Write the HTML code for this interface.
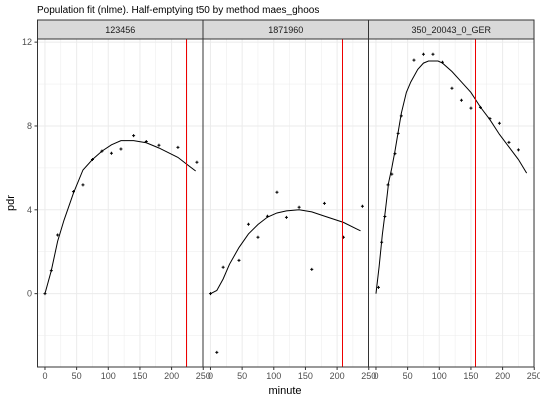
<!DOCTYPE html>
<html><head><meta charset="utf-8"><style>
body{margin:0;background:#fff}
svg{display:block;font-family:"Liberation Sans",sans-serif}
</style></head><body>
<svg id="chart" width="540" height="400">
<text x="37" y="13" font-size="10" fill="#000">Population fit (nlme). Half-emptying t50 by method maes_ghoos</text>
<text x="285" y="394" font-size="11" text-anchor="middle">minute</text>
<text x="14" y="203" font-size="11" text-anchor="middle" transform="rotate(-90 14 203)">pdr</text>
</svg>
<script>
const panelNames=["123456","1871960","350_20043_0_GER"];
const xTicks=[0,50,100,150,200,250];
const yTicks=[0,4,8,12];
const t50=[223,207,156];
const pts1x=[0,10,20,45,60,75,90,105,120,140,160,180,210,240];
const pts1y=[0,1.1,2.8,4.87,5.19,6.4,6.8,6.7,6.9,7.54,7.26,7.08,6.98,6.27];
const pts2x=[0,10,20,45,60,75,90,105,120,140,160,180,210,240];
const pts2y=[0,-2.8,1.26,1.59,3.31,2.69,3.69,4.84,3.64,4.12,1.16,4.31,2.69,4.17];
const pts3x=[4,9,14,19,25,30,35,40,60,75,90,105,120,135,150,165,180,195,210,225];
const pts3y=[0.3,2.45,3.68,5.19,5.7,6.68,7.65,8.48,11.14,11.42,11.42,11.04,9.8,9.23,8.85,8.89,8.35,8.13,7.22,6.86];
const fit1x=[0,10,20,30,45,60,75,90,105,120,140,160,180,210,225,238];
const fit1y=[0,1.1,2.5,3.5,4.8,5.9,6.4,6.8,7.1,7.3,7.3,7.2,6.95,6.5,6.15,5.85];
const fit2x=[0,10,20,30,45,60,75,90,105,120,140,160,180,210,230,237];
const fit2y=[0,0.15,0.7,1.4,2.2,2.85,3.3,3.65,3.85,3.95,4.0,3.9,3.7,3.4,3.1,3.0];
const fit3x=[0,5,10,15,20,25,30,35,40,48,55,66,75,83,98,105,120,135,150,165,180,195,210,225,238];
const fit3y=[0,1.3,2.8,4.0,5.3,6.0,6.8,7.7,8.6,9.6,10.1,10.7,11.0,11.1,11.1,11.0,10.6,10.1,9.6,8.9,8.3,7.6,7.0,6.4,5.75];
const PX=[pts1x,pts2x,pts3x],PY=[pts1y,pts2y,pts3y],FX=[fit1x,fit2x,fit3x],FY=[fit1y,fit2y,fit3y];
const NS="http://www.w3.org/2000/svg",svg=document.getElementById("chart");
const top0=39,bot=367,pw=165.5,xmin=-11.8,xmax=249.6,ymin=-3.5,ymax=12.15;
const panelX0=[37.5,203,368.5];
function mk(tag,at,parent){const e=document.createElementNS(NS,tag);for(const k in at)e.setAttribute(k,at[k]);(parent||svg).appendChild(e);return e;}
const sy=v=>bot-(v-ymin)/(ymax-ymin)*(bot-top0);
for(let p=0;p<3;p++){
 const x0=panelX0[p];const sx=v=>x0+(v-xmin)/(xmax-xmin)*pw;
 const g=mk("g",{});
 
 
 mk("rect",{x:x0,y:top0,width:pw,height:bot-top0,fill:"#fff"},g);
 for(let v=-2;v<=12;v+=2){mk("line",{x1:x0,x2:x0+pw,y1:sy(v),y2:sy(v),stroke:"#ebebeb","stroke-width":v%4==0?1:0.5},g);}
 for(let v=0;v<=250;v+=25){mk("line",{x1:sx(v),x2:sx(v),y1:top0,y2:bot,stroke:"#ebebeb","stroke-width":v%50==0?1:0.5},g);}
 const fit=mk("polyline",{points:FX[p].map((x,i)=>sx(x)+","+sy(FY[p][i])).join(" "),fill:"none",stroke:"#000","stroke-width":1},g);
 
 
 PX[p].forEach((x,i)=>{const cx=sx(x),cy=sy(PY[p][i]);
  const pt=mk("path",{d:`M${cx-1.5},${cy}H${cx+1.5}M${cx},${cy-1.5}V${cy+1.5}`,stroke:"#000","stroke-width":1},g);
  
  });
 const rx=Math.round(sx(t50[p]))+0.5;
 const rl=mk("line",{x1:rx,x2:rx,y1:top0,y2:bot,stroke:"#e00","stroke-width":1},g);
 
 
 mk("rect",{x:x0,y:top0,width:pw,height:bot-top0,fill:"none",stroke:"#333","stroke-width":1},g);
 const st=mk("rect",{x:x0,y:20,width:pw,height:top0-20,fill:"#d9d9d9",stroke:"#333","stroke-width":1},g);
 
 
 const tt=mk("text",{x:x0+pw/2,y:33,"font-size":9,"text-anchor":"middle",fill:"#1a1a1a"},g);tt.textContent=panelNames[p];
 
 
 xTicks.forEach(v=>{mk("line",{x1:sx(v),x2:sx(v),y1:bot,y2:bot+3,stroke:"#333"},g);
  const t=mk("text",{x:sx(v),y:bot+12,"font-size":9,"text-anchor":"middle",fill:"#4d4d4d"},g);t.textContent=v;
  
  });
}
yTicks.forEach(v=>{mk("line",{x1:34.5,x2:37.5,y1:sy(v),y2:sy(v),stroke:"#333"});
 const t=mk("text",{x:32,y:sy(v)+3,"font-size":9,"text-anchor":"end",fill:"#4d4d4d"});t.textContent=v;
 
 });
</script>
</body></html>
